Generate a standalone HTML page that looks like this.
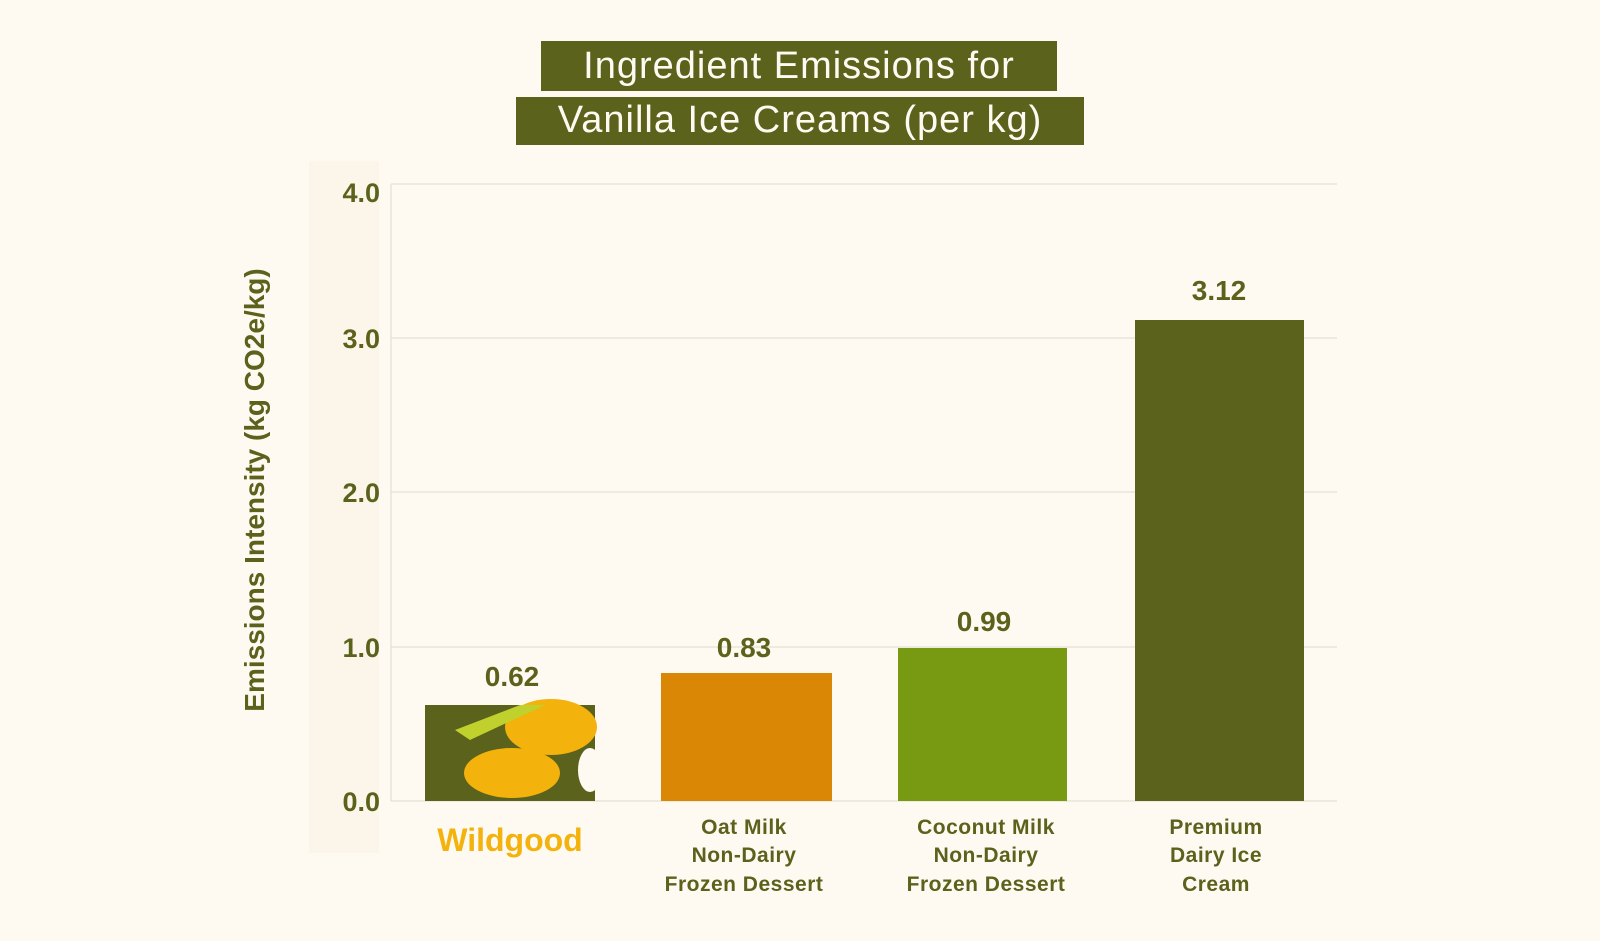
<!DOCTYPE html>
<html><head><meta charset="utf-8"><style>
body{margin:0;background:#FEFAF2;}
svg{display:block;font-family:"Liberation Sans",sans-serif;}
</style></head><body>
<svg width="1600" height="941" viewBox="0 0 1600 941">
<rect width="1600" height="941" fill="#FEFAF2"/>
<rect x="309" y="161" width="70" height="692" fill="#FCF6EA"/>
<rect x="541" y="41" width="516" height="50" fill="#5A621C"/>
<rect x="516" y="97" width="568" height="48" fill="#5A621C"/>
<text x="799" y="78" text-anchor="middle" font-size="38" fill="#FEFAF2" letter-spacing="1">Ingredient Emissions for</text>
<text x="800" y="132" text-anchor="middle" font-size="38" fill="#FEFAF2" letter-spacing="1">Vanilla Ice Creams (per kg)</text>
<g stroke="#DCDCCC" stroke-width="1">
<line x1="391" y1="184" x2="1337" y2="184"/>
<line x1="391" y1="338" x2="1337" y2="338"/>
<line x1="391" y1="492" x2="1337" y2="492"/>
<line x1="391" y1="647" x2="1337" y2="647"/>
<line x1="391" y1="801" x2="1337" y2="801"/>
<line x1="391" y1="184" x2="391" y2="801"/>
</g>
<g font-size="27" font-weight="bold" fill="#5A621C" text-anchor="end">
<text x="380" y="202">4.0</text>
<text x="380" y="348">3.0</text>
<text x="380" y="502">2.0</text>
<text x="380" y="657">1.0</text>
<text x="380" y="811">0.0</text>
</g>
<text transform="translate(264,490) rotate(-90)" text-anchor="middle" font-size="28" font-weight="bold" fill="#5A621C">Emissions Intensity (kg CO2e/kg)</text>
<rect x="425" y="705" width="170" height="96" fill="#5A621C"/>
<ellipse cx="512" cy="773" rx="48" ry="25" fill="#F3B20C"/>
<ellipse cx="551" cy="727" rx="46" ry="28" fill="#F3B20C"/>
<path d="M455 730 L520 705 L545 705 L470 740 Z" fill="#C0D12E"/>
<ellipse cx="590" cy="770" rx="12" ry="22" fill="#FEFAF2"/>
<rect x="661" y="673" width="171" height="128" fill="#D98705"/>
<rect x="898" y="648" width="169" height="153" fill="#779A12"/>
<rect x="1135" y="320" width="169" height="481" fill="#5A621C"/>
<g font-size="28" font-weight="bold" fill="#5A621C" text-anchor="middle">
<text x="512" y="686">0.62</text>
<text x="744" y="657">0.83</text>
<text x="984" y="631">0.99</text>
<text x="1219" y="300">3.12</text>
</g>
<text x="510" y="851" text-anchor="middle" font-size="32" font-weight="bold" fill="#F3B20C">Wildgood</text>
<g font-size="21" fill="#5A621C" text-anchor="middle" font-weight="bold" letter-spacing="0.5">
<text x="744" y="834">Oat Milk</text>
<text x="744" y="862">Non-Dairy</text>
<text x="744" y="891">Frozen Dessert</text>
<text x="986" y="834">Coconut Milk</text>
<text x="986" y="862">Non-Dairy</text>
<text x="986" y="891">Frozen Dessert</text>
<text x="1216" y="834">Premium</text>
<text x="1216" y="862">Dairy Ice</text>
<text x="1216" y="891">Cream</text>
</g>
</svg>
</body></html>
